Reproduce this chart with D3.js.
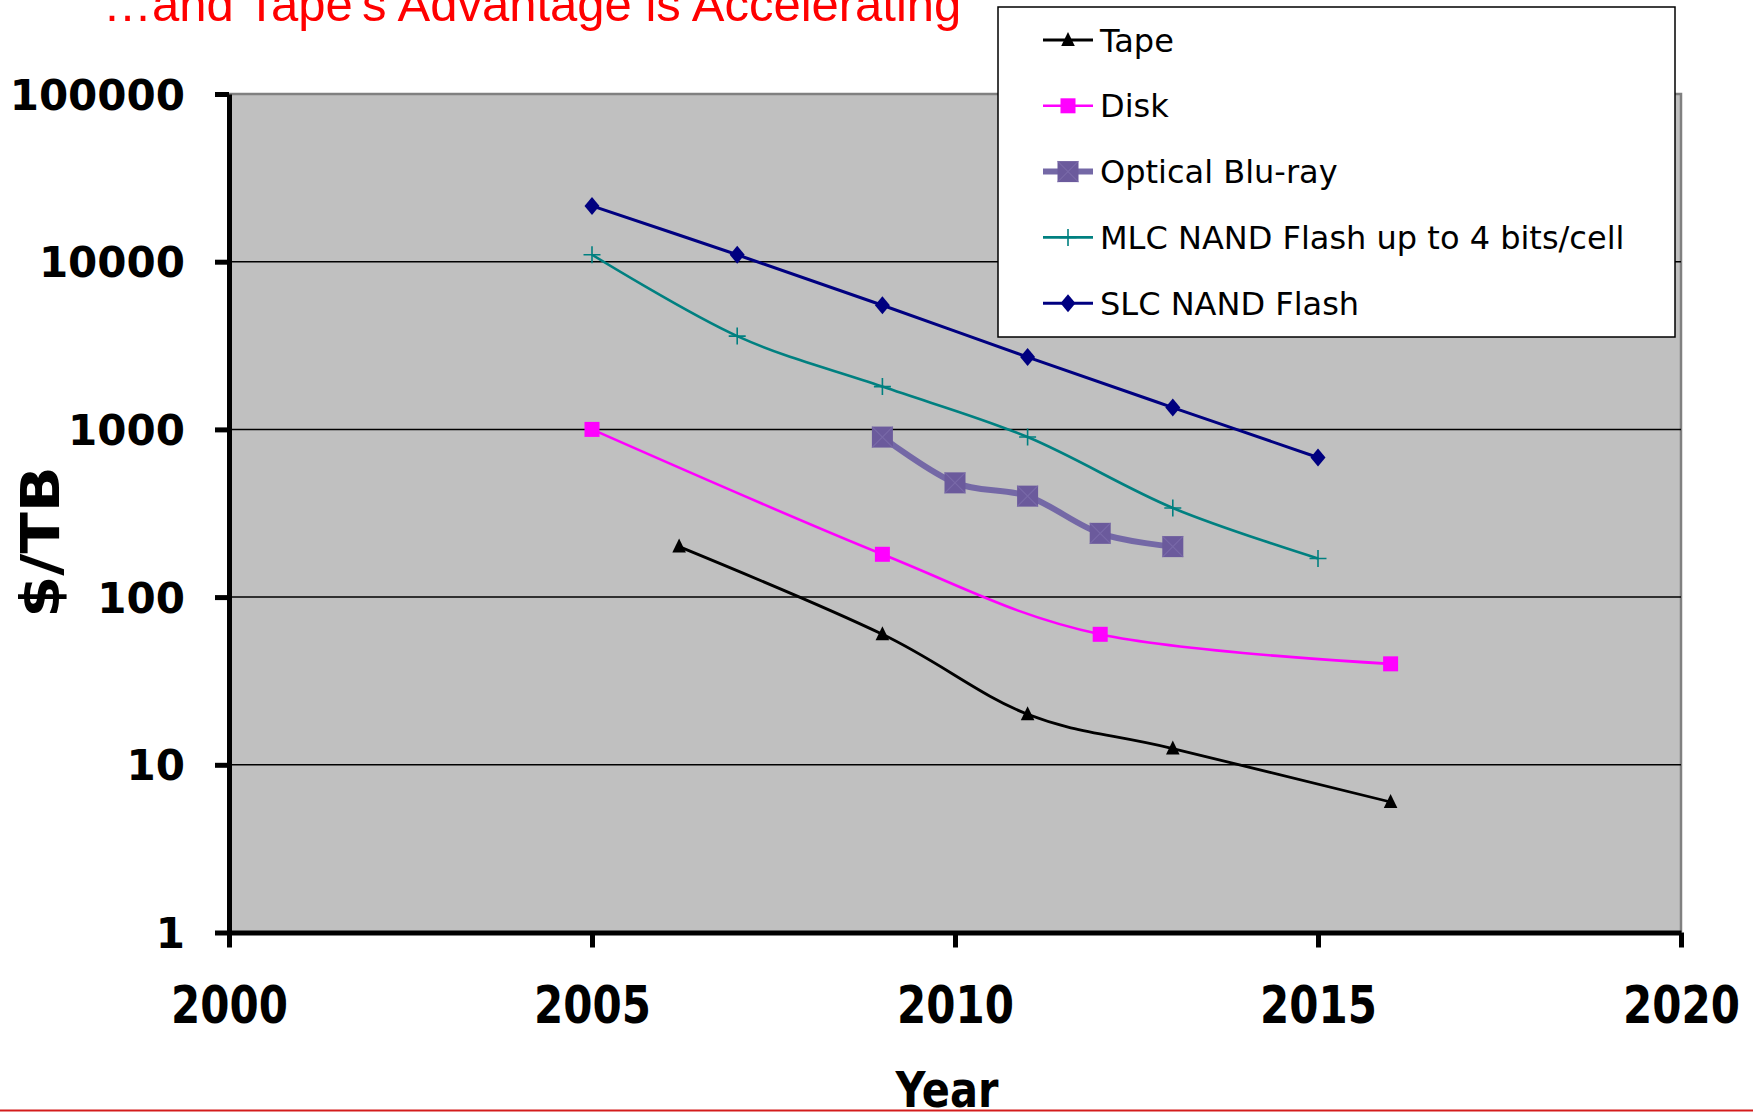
<!DOCTYPE html>
<html>
<head>
<meta charset="utf-8">
<script src="https://cdn.jsdelivr.net/npm/d3@7"></script>
<style>
  html, body { margin: 0; padding: 0; background: #ffffff; }
  svg { display: block; }
</style>
</head>
<body>
<svg id="chart" width="1753" height="1112"></svg>
<script>
// ---- Data: storage cost in $/TB by year ----
const seriesNames = ["Tape", "Disk", "Optical Blu-ray", "MLC NAND Flash up to 4 bits/cell", "SLC NAND Flash"];

const tapeYears = [2006.2, 2009, 2011, 2013, 2016];
const tapeCost  = [200, 60, 20, 12.5, 6];

const diskYears = [2005, 2009, 2012, 2016];
const diskCost  = [1000, 180, 60, 40];

const opticalYears = [2009, 2010, 2011, 2012, 2013];
const opticalCost  = [900, 480, 400, 240, 200];

const mlcYears = [2005, 2007, 2009, 2011, 2013, 2015];
const mlcCost  = [11000, 3600, 1800, 900, 340, 170];

const slcYears = [2005, 2007, 2009, 2011, 2013, 2015];
const slcCost  = [21500, 11000, 5500, 2700, 1350, 680];

const xTickValues = [2000, 2005, 2010, 2015, 2020];
const yTickValues = [1, 10, 100, 1000, 10000, 100000];

const titleText = "\u2026and Tape's Advantage is Accelerating";
const xTitle = "Year";
const yTitle = "$/TB";

// ---- Layout ----
const svg = d3.select("#chart");
const plot = { left: 229, right: 1681, top: 94, bottom: 932.5 };

const x = d3.scaleLinear().domain([2000, 2020]).range([plot.left, plot.right]);
const y = d3.scaleLog().domain([1, 100000]).range([plot.bottom, plot.top]);

const styles = {
  "Tape":            { color: "#000000", width: 2.8, marker: "triangle", size: 16 },
  "Disk":            { color: "#ff00ff", width: 2.6, marker: "square",   size: 15 },
  "Optical Blu-ray": { color: "#7468a6", width: 6,   marker: "bigsquare", size: 21, fill: "#6b5a9c" },
  "MLC NAND Flash up to 4 bits/cell": { color: "#008080", width: 2.6, marker: "plus", size: 17 },
  "SLC NAND Flash":  { color: "#000080", width: 3,   marker: "diamond",  size: 15 }
};

const series = [
  { name: seriesNames[0], years: tapeYears,    values: tapeCost },
  { name: seriesNames[1], years: diskYears,    values: diskCost },
  { name: seriesNames[2], years: opticalYears, values: opticalCost },
  { name: seriesNames[3], years: mlcYears,     values: mlcCost },
  { name: seriesNames[4], years: slcYears,     values: slcCost }
];

// ---- Title ----
svg.append("text")
  .attr("x", 103).attr("y", 21)
  .attr("font-family", "'Liberation Sans', Arial, sans-serif")
  .attr("font-size", 49)
  .attr("fill", "#ff0000")
  .text(titleText);

// ---- Plot background ----
svg.append("rect")
  .attr("x", plot.left).attr("y", plot.top)
  .attr("width", plot.right - plot.left).attr("height", plot.bottom - plot.top)
  .attr("fill", "#c0c0c0");

// top and right frame of the plot area
svg.append("path")
  .attr("d", `M${plot.left},${plot.top}H${plot.right}V${plot.bottom}`)
  .attr("fill", "none").attr("stroke", "#808080").attr("stroke-width", 2.5);

// ---- Gridlines ----
svg.append("g").selectAll("line")
  .data(yTickValues.filter(v => v > 1 && v < 100000))
  .join("line")
  .attr("x1", plot.left).attr("x2", plot.right)
  .attr("y1", d => y(d)).attr("y2", d => y(d))
  .attr("stroke", "#000").attr("stroke-width", 1.5);

// ---- Axes ----
const yAxis = d3.axisLeft(y)
  .tickValues(yTickValues)
  .tickFormat(d3.format("d"))
  .tickSize(14).tickSizeOuter(0).tickPadding(30);

const gy = svg.append("g").attr("transform", `translate(${plot.left},0)`).call(yAxis);
gy.select(".domain").attr("stroke", "#000").attr("stroke-width", 5);
gy.selectAll(".tick line").attr("stroke", "#000").attr("stroke-width", 5);
gy.selectAll(".tick text")
  .attr("font-family", "'DejaVu Sans', Verdana, sans-serif")
  .attr("font-weight", "bold").attr("font-size", 42)
  .attr("fill", "#000").attr("dy", "0.36em");

const xAxis = d3.axisBottom(x)
  .tickValues(xTickValues)
  .tickFormat(d3.format("d"))
  .tickSize(15).tickSizeOuter(0);

const gx = svg.append("g").attr("transform", `translate(0,${plot.bottom})`).call(xAxis);
gx.select(".domain").attr("stroke", "#000").attr("stroke-width", 5);
gx.selectAll(".tick line").attr("stroke", "#000").attr("stroke-width", 5);
gx.selectAll(".tick text")
  .attr("font-family", "'DejaVu Sans', Verdana, sans-serif")
  .attr("font-weight", "bold").attr("font-size", 42)
  .attr("fill", "#000")
  .attr("y", 0).attr("dy", null)
  .attr("transform", "translate(0,90.5) scale(1,1.22)");

// ---- Axis titles ----
svg.append("text")
  .attr("transform", "translate(947,1107) scale(1,1.2)")
  .attr("text-anchor", "middle")
  .attr("font-family", "'DejaVu Sans', Verdana, sans-serif")
  .attr("font-weight", "bold").attr("font-size", 41.5)
  .attr("fill", "#000")
  .text(xTitle);

svg.append("text")
  .attr("transform", "translate(59,542) rotate(-90) scale(1.12,1)")
  .attr("text-anchor", "middle")
  .attr("font-family", "'DejaVu Sans', Verdana, sans-serif")
  .attr("font-weight", "bold").attr("font-size", 54)
  .attr("fill", "#000")
  .text(yTitle);

// ---- Markers ----
function drawMarker(g, st) {
  const s = st.size, h = s / 2;
  if (st.marker === "triangle") {
    g.append("path").attr("d", `M0,${-h}L${h * 0.85},${h * 0.75}L${-h * 0.85},${h * 0.75}Z`).attr("fill", st.color);
  } else if (st.marker === "square") {
    g.append("rect").attr("x", -h).attr("y", -h).attr("width", s).attr("height", s).attr("fill", st.color);
  } else if (st.marker === "bigsquare") {
    g.append("rect").attr("x", -h).attr("y", -h).attr("width", s).attr("height", s).attr("fill", st.fill);
    g.append("path").attr("d", `M${-h},${-h}L${h},${h}M${h},${-h}L${-h},${h}`)
      .attr("stroke", "#7f70ae").attr("stroke-width", 1.2).attr("opacity", 0.7);
  } else if (st.marker === "plus") {
    g.append("path").attr("d", `M${-h},0H${h}M0,${-h}V${h}`).attr("stroke", st.color).attr("stroke-width", 1.6);
  } else if (st.marker === "diamond") {
    const hh = h * 1.2;
    g.append("path").attr("d", `M0,${-hh}L${h},0L0,${hh}L${-h},0Z`).attr("fill", st.color);
  }
}

// ---- Series lines and points ----
const line = d3.line()
  .x(d => x(d[0]))
  .y(d => y(d[1]))
  .curve(d3.curveCatmullRom.alpha(0));

const gSeries = svg.append("g");
series.forEach(s => {
  const st = styles[s.name];
  const pts = s.years.map((yr, i) => [yr, s.values[i]]);
  gSeries.append("path")
    .datum(pts)
    .attr("d", line)
    .attr("fill", "none")
    .attr("stroke", st.color)
    .attr("stroke-width", st.width)
    .attr("stroke-linejoin", "round");
  pts.forEach(p => {
    const g = gSeries.append("g").attr("transform", `translate(${x(p[0])},${y(p[1])})`);
    drawMarker(g, st);
  });
});

// ---- Legend ----
const legend = svg.append("g");
legend.append("rect")
  .attr("x", 998).attr("y", 7).attr("width", 677).attr("height", 330)
  .attr("fill", "#fff").attr("stroke", "#000").attr("stroke-width", 1.5);

seriesNames.forEach((name, i) => {
  const st = styles[name];
  const ry = 40 + i * 65.8;
  const row = legend.append("g").attr("transform", `translate(0,${ry})`);
  row.append("line")
    .attr("x1", 1043).attr("x2", 1093).attr("y1", 0).attr("y2", 0)
    .attr("stroke", st.color).attr("stroke-width", st.width);
  drawMarker(row.append("g").attr("transform", "translate(1068,0)"), st);
  row.append("text")
    .attr("x", 1100).attr("y", 11.5)
    .attr("font-family", "'DejaVu Sans', Verdana, sans-serif")
    .attr("font-size", 32)
    .attr("fill", "#000")
    .text(name);
});

// ---- Bottom rule ----
svg.append("rect")
  .attr("x", 0).attr("y", 1109.5).attr("width", 1753).attr("height", 2)
  .attr("fill", "#d41c1c");
</script>
</body>
</html>
